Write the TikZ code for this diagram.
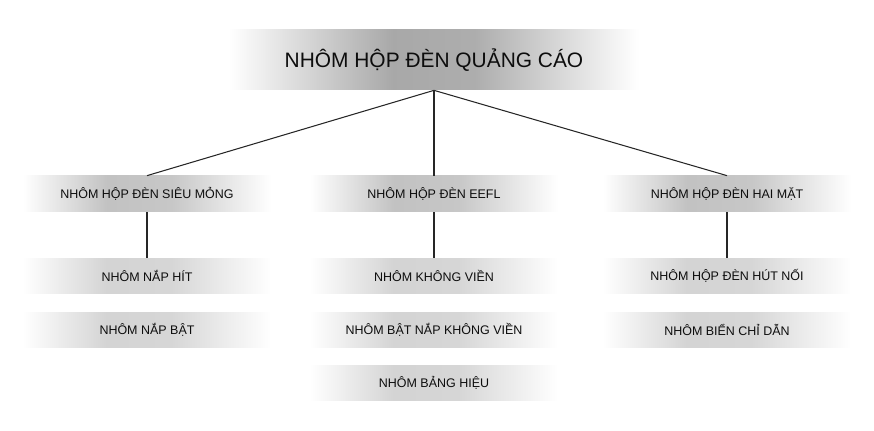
\documentclass[tikz,border=0pt]{standalone}
\usepackage{fontspec}
\setmainfont{Liberation Sans}
\usepackage{tikz}
\pgfdeclarehorizontalshading{TopFade}{100bp}{color(0bp)=(white); color(25bp)=(white); color(45bp)=(black!34); color(55bp)=(black!32); color(75bp)=(white); color(100bp)=(white)}
\pgfdeclarehorizontalshading{MidFade}{100bp}{color(0bp)=(white); color(25bp)=(white); color(42bp)=(black!24); color(55bp)=(black!22); color(75bp)=(white); color(100bp)=(white)}
\pgfdeclarehorizontalshading{LowFade}{100bp}{color(0bp)=(white); color(25bp)=(white); color(42bp)=(black!17); color(55bp)=(black!16); color(75bp)=(white); color(100bp)=(white)}

\begin{document}
\begin{tikzpicture}[x=0.02cm,y=-0.02cm,box/.style n args={3}{rectangle,shade,shading=#1,minimum width=#2,minimum height=#3,inner sep=0pt,text=black!95},lvl/.style={box={MidFade}{4.96cm}{0.72cm},font=\fontsize{7.1}{9}\selectfont},sub/.style={box={LowFade}{4.96cm}{0.72cm},font=\fontsize{7.1}{9}\selectfont},link/.style={draw=black!85,line width=0.6pt}]
\useasboundingbox (0,0) rectangle (874,431);
   \node[box={TopFade}{8.2cm}{1.2cm},font=\fontsize{11.9}{14}\selectfont](n0) at(434,60) {NHÔM HỘP ĐÈN QUẢNG CÁO};
   \node[lvl](n1) at(147,194) {NHÔM HỘP ĐÈN SIÊU MỎNG};
   \node[lvl](n2) at(434,194) {NHÔM HỘP ĐÈN EEFL};
   \node[lvl](n3) at(727,194) {NHÔM HỘP ĐÈN HAI MẶT};
   \node[sub](n4) at(147,276) {NHÔM NẮP HÍT};
   \node[sub](n5) at(147,330) {NHÔM NẮP BẬT};
   \node[sub](n6) at(434,276) {NHÔM KHÔNG VIỀN};
   \node[sub](n7) at(434,330) {NHÔM BẬT NẮP KHÔNG VIỀN};
   \node[sub](n8) at(434,383) {NHÔM BẢNG HIỆU};
   \node[sub](n9) at(727,276) {NHÔM HỘP ĐÈN HÚT NỐI};
   \node[sub](n10) at(727,330) {NHÔM BIỂN CHỈ DẪN};
\foreach \c in {n1,n2,n3} {
   \draw[link] (n0.south) -- (\c.north);
}
\foreach \a/\b in %
{n1/n4,n2/n6,n3/n9} {
   \draw[link] (\a.south) -- (\b.north);
}
\end{tikzpicture}
\end{document}
